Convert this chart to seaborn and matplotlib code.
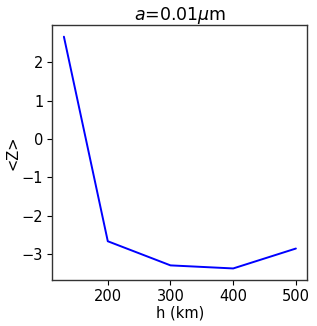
import matplotlib
matplotlib.use("Agg")
import matplotlib.pyplot as plt
import seaborn as sns

h_km = [130, 200, 300, 400, 500]
mean_z = [2.67, -2.67, -3.30, -3.38, -2.86]

sns.set_style("white")
plt.rcParams["font.family"] = ["DejaVu Sans"]
plt.rcParams["mathtext.fontset"] = "dejavusans"
plt.rcParams["text.color"] = "black"
plt.rcParams["axes.labelcolor"] = "black"

fig, ax = plt.subplots(figsize=(3.17, 3.26), dpi=100)
sns.lineplot(x=h_km, y=mean_z, color="blue", linewidth=1.4, ax=ax)

for s in ax.spines.values():
    s.set_color("#333333")
    s.set_linewidth(1.0)
ax.tick_params(axis="both", which="major", labelsize=10.5, length=3.5, width=0.8,
               direction="out", bottom=True, left=True, colors="black", pad=3)
ax.set_xticks([200, 300, 400, 500])
ax.set_yticks([-3, -2, -1, 0, 1, 2])
ax.set_xlabel("h (km)", fontsize=10.5, labelpad=1, color="black")
ax.set_ylabel("<Z>", fontsize=10.5, labelpad=1, color="black")
ax.set_title(r"$a$=0.01$\mu$m", fontsize=12.5, pad=4, color="black")

plt.subplots_adjust(left=0.165, right=0.97, bottom=0.141, top=0.923)
plt.savefig("out.png", dpi=100)
